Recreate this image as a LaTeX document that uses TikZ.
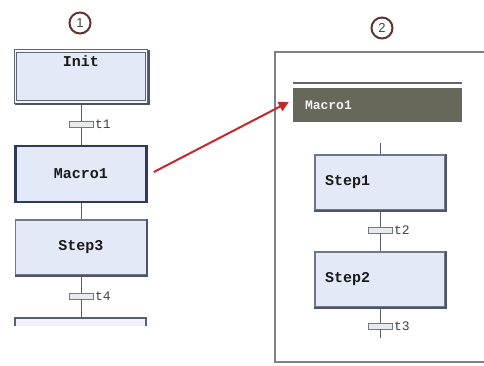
\documentclass[tikz,border=0pt]{standalone}
\usepackage{fontspec}
\usepackage{xcolor}
\usetikzlibrary{calc,positioning,arrows.meta}
\newfontfamily\boxfont{Liberation Mono}
\newfontfamily\numfont{Liberation Sans}
\definecolor{stepfill}{HTML}{E4E9F7}
\definecolor{stepedge}{HTML}{6D7889}
\definecolor{stepshade}{HTML}{4D5666}
\definecolor{macroedge}{HTML}{2C3B58}
\definecolor{headfill}{HTML}{67675A}
\definecolor{frameline}{HTML}{808080}
\definecolor{linkred}{HTML}{C8262B}
\definecolor{circleedge}{HTML}{5E3434}

\begin{document}
\begin{tikzpicture}[
  x=1pt, y=-1pt,
  stepbox/.style={
    rectangle, draw=stepedge, fill=stepfill, line width=1.2pt,
    minimum width=131pt, minimum height=55pt, inner sep=0pt,
    font=\boxfont\fontsize{15}{17}\selectfont\bfseries, text=black!90,
  },
  initbox/.style={
    stepbox, draw=stepshade!90, line width=1.2pt, double=white!60!stepfill, double distance=1.3pt,
    minimum height=51pt, text height=10pt, text depth=30pt,
  },
  macrobox/.style={
    stepbox, draw=macroedge, line width=2.6pt, minimum height=56pt,
  },
  substep/.style={
    stepbox, minimum width=130pt, text width=110pt, align=left,
  },
  transbar/.style={
    rectangle, draw=stepedge, fill=stepfill!70!gray!40, line width=0.7pt,
    minimum width=24pt, minimum height=6pt, inner sep=0pt,
    label={[font=\boxfont\fontsize{13}{15}\selectfont, text=black!75, inner sep=1.5pt]right:#1},
  },
  headbar/.style={
    rectangle, fill=headfill, minimum width=169pt, minimum height=34pt,
    text width=145pt, align=left, inner sep=0pt,
    font=\boxfont\fontsize{13}{15}\selectfont\bfseries, text=white!92!gray,
  },
  numcircle/.style={
    circle, draw=circleedge, line width=2pt, minimum size=21pt, inner sep=0pt,
    font=\numfont\fontsize{13}{15}\selectfont, text=black!75,
  },
  linkline/.style={draw=stepedge!80!black, line width=1pt},
  edgeshade/.style={draw=stepshade, line width=2pt},
]
\useasboundingbox (0,0) rectangle (484,365);

% numbers
\node[numcircle] (nrone) at (80,23) {1};
\node[numcircle] (nrtwo) at (382,28) {2};

% left chart
\node[initbox] (init) at (81,76.5) {Init};
\node[macrobox] (macro) at (81,174) {Macro1};
\node[stepbox] (stepthree) at (81,247.5) {Step3};
\node[transbar=t1] (tone) at (81,124.5) {};
\node[transbar=t4] (tfour) at (81,296) {};
\coordinate (nextstep) at (81,318);
\fill[stepfill!60] (15,318) rectangle (146,326);
\draw[linkline, line width=1.4pt] (15,326) -- (15,318) -- (146,318) -- (146,326);

\draw[linkline] (init.south) -- (tone.north);
\draw[linkline] (tone.south) -- (macro.north);
\draw[linkline] (macro.south) -- (stepthree.north);
\draw[linkline] (stepthree.south) -- (tfour.north);
\draw[linkline] (tfour.south) -- (nextstep);

% macro frame
\draw[frameline, line width=1.6pt] (484,52) -- (275,52) -- (275,362) -- (484,362);
\draw[frameline!80!black, line width=1.2pt] (293,83) -- (462,83);
\node[headbar] (head) at (377.5,105) {Macro1};

\coordinate (entry) at (380,143);
\node[substep] (stepone) at (380,182.5) {Step1};
\node[substep] (steptwo) at (380,279.5) {Step2};
\node[transbar=t2] (ttwo) at (380,230) {};
\node[transbar=t3] (tthree) at (380,326) {};
\coordinate (exit) at (380,338);

\draw[linkline] (entry) -- (stepone.north);
\draw[linkline] (stepone.south) -- (ttwo.north);
\draw[linkline] (ttwo.south) -- (steptwo.north);
\draw[linkline] (steptwo.south) -- (tthree.north);
\draw[linkline] (tthree.south) -- (exit);

% shaded lower and right edges
\foreach \n in {stepthree,stepone,steptwo}
  \draw[edgeshade] (\n.north east) -- (\n.south east) -- (\n.south west);
\draw[edgeshade] ([shift={(1.5,0)}]init.north east) -- ([shift={(1.5,1.5)}]init.south east) -- ([shift={(0,1.5)}]init.south west);

% link to the opened macro
\draw[linkred, line width=2pt, -{Triangle[length=10pt, width=10pt]}]
  ([xshift=6pt, yshift=2pt]macro.east) -- ([xshift=-4pt, yshift=3pt]head.west);

\end{tikzpicture}
\end{document}
